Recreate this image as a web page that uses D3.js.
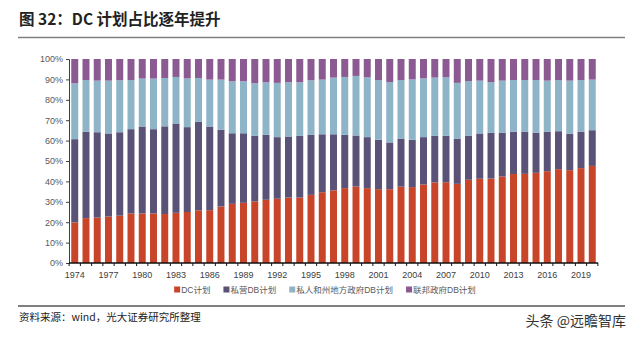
<!DOCTYPE html>
<html><head><meta charset="utf-8">
<script src="https://cdn.jsdelivr.net/npm/d3@7/dist/d3.min.js"></script>
<style>
html,body{margin:0;padding:0;background:#fff;}
svg{display:block;}
</style></head>
<body>
<svg id="c" width="640" height="339"></svg>
<script>
const years = d3.range(1974, 2021);
const xTickLabels = ["1974","1977","1980","1983","1986","1989","1992","1995","1998","2001","2004","2007","2010","2013","2016","2019"];
const yTickLabels = ["0%","10%","20%","30%","40%","50%","60%","70%","80%","90%","100%"];
const seriesNames = ["DC计划","私营DB计划","私人和州地方政府DB计划","联邦政府DB计划"];
// cumulative tops (percent)
const dcTop = [19.9,22.0,22.3,22.8,23.2,24.3,24.3,24.3,24.0,24.6,25.0,25.8,25.9,27.7,29.0,29.5,30.2,31.0,31.5,32.1,32.1,33.4,34.7,35.6,36.7,37.5,36.7,36.2,36.2,37.4,37.2,38.5,39.5,39.6,38.8,40.8,41.3,41.4,42.4,43.6,43.7,44.2,45.0,46.0,45.5,46.5,47.6];
const privDBTop = [60.7,64.4,64.1,63.5,64.1,65.6,66.9,65.6,67.0,68.4,66.6,69.2,66.9,65.3,63.6,63.6,62.3,62.8,61.7,62.0,62.3,62.8,63.1,63.1,62.8,62.5,61.7,60.4,59.1,61.0,60.4,61.7,62.3,62.4,61.0,62.3,63.5,63.8,63.9,64.4,64.4,63.9,64.3,64.6,63.3,64.4,65.1];
const stateDBTop = [88.1,89.7,89.4,89.4,89.6,89.7,90.4,90.4,90.7,91.2,90.5,90.7,89.9,89.9,89.1,89.1,88.1,88.6,88.3,88.6,88.6,89.6,89.9,90.9,91.2,91.7,91.0,89.7,88.7,89.7,90.0,90.5,90.9,91.0,88.3,89.2,89.4,88.7,89.4,89.7,89.7,89.7,89.4,89.7,89.4,89.7,89.9];
// individual series values
const dc = dcTop.slice();
const privateDB = privDBTop.map((v,i)=> +(v - dcTop[i]).toFixed(1));
const stateLocalDB = stateDBTop.map((v,i)=> +(v - privDBTop[i]).toFixed(1));
const federalDB = stateDBTop.map(v=> +(100 - v).toFixed(1));

const colors = ["#C9452A","#5A5277","#8DB4C7","#8C5A92"];

const svg = d3.select("#c");
const font = "'Liberation Sans', Arial, 'Noto Sans CJK SC', sans-serif";

// Title
svg.append("text").attr("x",19).attr("y",25)
  .attr("font-family","'Noto Sans CJK SC', sans-serif").attr("font-weight","bold")
  .attr("font-size",15.5).attr("fill","#222").text("图 32：DC 计划占比逐年提升");
svg.append("line").attr("x1",18).attr("x2",625).attr("y1",37.5).attr("y2",37.5)
  .attr("stroke","#7f7f7f").attr("stroke-width",1.5);

const x = d3.scaleBand().domain(years).range([69,598]).paddingInner(0.38).paddingOuter(0.2);
const y = d3.scaleLinear().domain([0,100]).range([263,59]);

const rows = years.map((yr,i)=>({year:yr, s0:dc[i], s1:privateDB[i], s2:stateLocalDB[i], s3:federalDB[i]}));
const stack = d3.stack().keys(["s0","s1","s2","s3"]);
const stacked = stack(rows);

svg.append("g").selectAll("g").data(stacked).join("g")
  .attr("fill",(d,i)=>colors[i])
  .selectAll("rect").data(d=>d).join("rect")
  .attr("x",d=>x(d.data.year)).attr("width",x.bandwidth())
  .attr("y",d=>y(Math.min(100,d[1]))).attr("height",d=>y(d[0])-y(Math.min(100,d[1])));

// Y axis
const yAxis = d3.axisLeft(y).tickValues(d3.range(0,101,10)).tickFormat((d,i)=>yTickLabels[i]).tickSize(3).tickPadding(3);
const gy = svg.append("g").attr("transform","translate(69,0)").call(yAxis);
gy.select(".domain").attr("stroke","#404040");
gy.selectAll(".tick line").attr("stroke","#404040");
gy.selectAll("text").attr("font-family",font).attr("font-size",9).attr("fill","#595959");

// X axis
const gx = svg.append("g").attr("transform","translate(0,263)");
gx.append("line").attr("x1",69).attr("x2",598).attr("stroke","#111").attr("stroke-width",1.3);
const bounds = years.map(yr=>x(yr)-x.step()*x.paddingInner()/2).concat([x(2020)+x.bandwidth()+x.step()*x.paddingInner()/2]);
gx.selectAll("line.tk").data(bounds).join("line").attr("class","tk")
  .attr("x1",d=>d).attr("x2",d=>d).attr("y1",0).attr("y2",3).attr("stroke","#111");
gx.selectAll("text").data(xTickLabels).join("text")
  .attr("x",d=>x(+d)+x.bandwidth()/2).attr("y",15).attr("text-anchor","middle")
  .attr("font-family",font).attr("font-size",9).attr("fill","#404040").text(d=>d);

// Legend: laid out sequentially from measured text widths, centred
const lg = svg.append("g");
const items = lg.selectAll("g").data(seriesNames).join("g");
items.append("rect").attr("x",0).attr("y",-6.5).attr("width",6).attr("height",6).attr("fill",(d,i)=>colors[i]);
items.append("text").attr("x",7).attr("y",0).attr("font-family",font).attr("font-size",8.5)
  .attr("fill","#595959").text(d=>d);
const gap = 13;
let cx = 0;
const pos = [];
items.each(function(){ const w = 7 + d3.select(this).select("text").node().getComputedTextLength(); pos.push(cx); cx += w + gap; });
const total = cx - gap;
const startX = 325 - total/2;
items.attr("transform",(d,i)=>`translate(${startX+pos[i]},293)`);

// Bottom rule
svg.append("line").attr("x1",18).attr("x2",625).attr("y1",306).attr("y2",306)
  .attr("stroke","#7f7f7f").attr("stroke-width",2);
svg.append("text").attr("x",19).attr("y",321)
  .attr("font-family","'Noto Sans CJK SC', sans-serif").attr("font-size",10.5).attr("fill","#222")
  .text("资料来源：wind，光大证券研究所整理");
svg.append("text").attr("x",626).attr("y",326).attr("text-anchor","end")
  .attr("font-family","'Noto Sans CJK SC', sans-serif").attr("font-size",14).attr("fill","#333")
  .text("头条 @远瞻智库");
</script>
</body></html>
